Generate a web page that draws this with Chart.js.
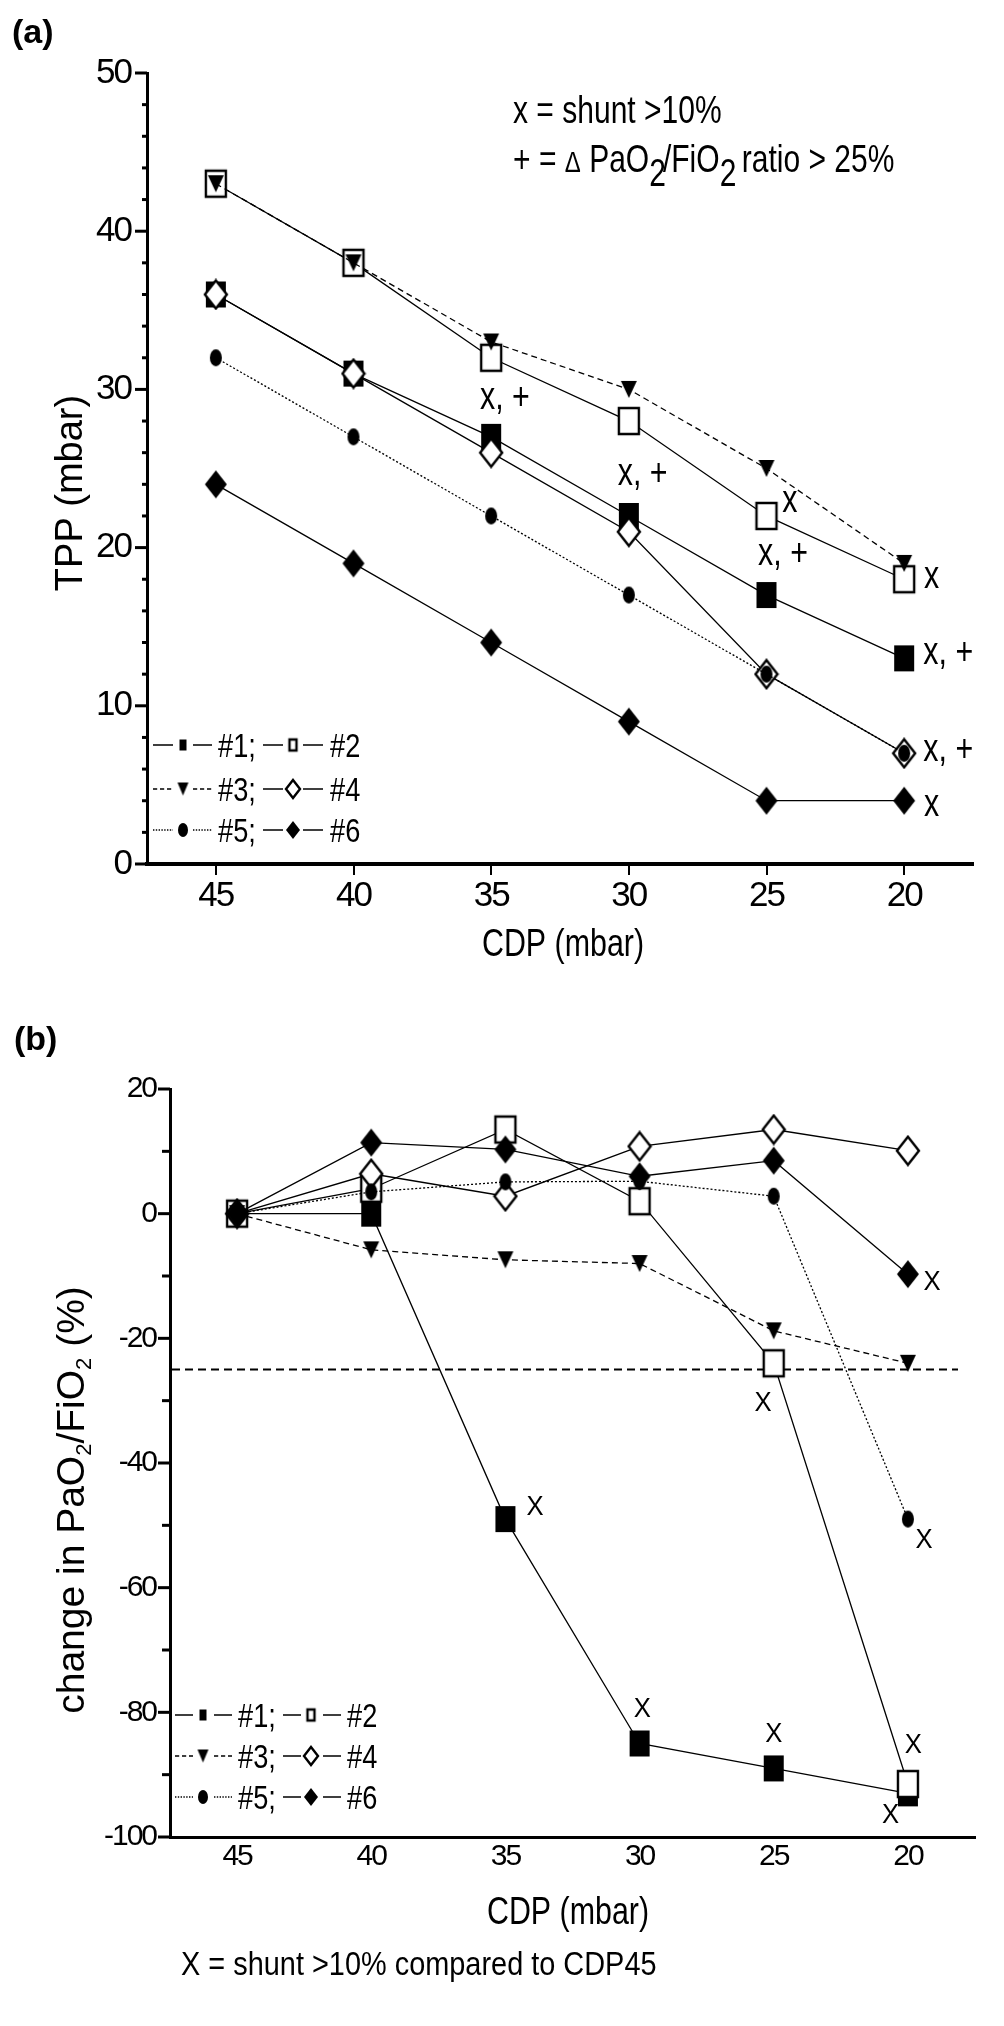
<!DOCTYPE html>
<html>
<head>
<meta charset="utf-8">
<script src="https://cdn.jsdelivr.net/npm/chart.js@4.4.1/dist/chart.umd.min.js"></script>
<style>
    body { margin: 0; background: #fff; }
    #wrap { position: relative; width: 1004px; height: 2026px; }
    #wrap canvas { position: absolute; left: 0; }
</style>
</head>
<body>
<div id="wrap">
    <canvas id="tpp-chart" width="1004" height="1000" style="top:0"></canvas>
    <canvas id="change-chart" width="1004" height="1026" style="top:1000px"></canvas>
</div>
<script>
// CDP steps (mbar)
const cdp = [45, 40, 35, 30, 25, 20];
const xTicks = [45, 40, 35, 30, 25, 20];
const seriesNames = ['#1', '#2', '#3', '#4', '#5', '#6'];

// (a) TPP (mbar)
const tpp1 = [36, 31, 27, 22, 17, 13];
const tpp2 = [43, 38, 32, 28, 22, 18];
const tpp3 = [43, 38, 33, 30, 25, 19];
const tpp4 = [36, 31, 26, 21, 12, 7];
const tpp5 = [32, 27, 22, 17, 12, 7];
const tpp6 = [24, 19, 14, 9, 4, 4];

// (b) change in PaO2/FiO2 (%)
const chg1 = [0, 0, -49, -85, -89, -93];
const chg2 = [0, 4, 13.5, 2, -24, -91.5];
const chg3 = [0, -5.8, -7.4, -8, -18.8, -24];
const chg4 = [0, 6.4, 2.8, 10.8, 13.5, 10.1];
const chg5 = [0, 3.5, 5.1, 5.2, 2.8, -49];
const chg6 = [0, 11.4, 10.3, 6, 8.5, -9.7];

const threshold = -25;

// shunt / ratio marks next to the points
const notesA = [
    { x: 34.5, y: 29.3, text: 'x, +' },
    { x: 29.5, y: 24.5, text: 'x, +' },
    { x: 24.15, y: 22.85, text: 'x' },
    { x: 24.4, y: 19.5, text: 'x, +' },
    { x: 19.0, y: 18.0, text: 'x' },
    { x: 18.4, y: 13.2, text: 'x, +' },
    { x: 18.4, y: 7.1, text: 'x, +' },
    { x: 19.0, y: 3.6, text: 'x' }
];
const notesB = [
    { x: 19.1, y: -10.7, text: 'X' },
    { x: 25.4, y: -30.2, text: 'X' },
    { x: 33.9, y: -46.8, text: 'X' },
    { x: 19.4, y: -52.1, text: 'X' },
    { x: 29.9, y: -79.3, text: 'X' },
    { x: 25.0, y: -83.2, text: 'X' },
    { x: 19.8, y: -85, text: 'X' },
    { x: 20.65, y: -96.2, text: 'X' }
];

const SANS = '"Liberation Sans", Arial, sans-serif';
Chart.defaults.font.family = SANS;
Chart.defaults.color = '#000';

const markerKinds = ['sqFill', 'sqOpen', 'triDown', 'diaOpen', 'dot', 'diaFill'];
const dashes = [[], [], [6, 4], [], [2, 2], []];
const markerSize = { sqFill: [22, 28], sqOpen: [22, 28], triDown: [16, 17], diaOpen: [22, 28], dot: [12, 17], diaFill: [22, 28] };
const legendSize = { sqFill: [9, 13], sqOpen: [9, 13], triDown: [11, 13], diaOpen: [14, 18], dot: [10, 14], diaFill: [14, 18] };

function makeMarker(kind, w, h) {
    const c = document.createElement('canvas');
    c.width = w + 4;
    c.height = h + 4;
    const g = c.getContext('2d');
    g.translate(2, 2);
    g.fillStyle = '#000';
    g.strokeStyle = '#000';
    g.lineWidth = 2.4;
    g.beginPath();
    if (kind === 'sqFill' || kind === 'sqOpen') {
        g.rect(1, 1, w - 2, h - 2);
    } else if (kind === 'triDown') {
        g.moveTo(0, 0); g.lineTo(w, 0); g.lineTo(w / 2, h); g.closePath();
    } else if (kind === 'dot') {
        g.ellipse(w / 2, h / 2, w / 2, h / 2, 0, 0, Math.PI * 2);
    } else {
        g.moveTo(w / 2, 0); g.lineTo(w, h / 2); g.lineTo(w / 2, h); g.lineTo(0, h / 2); g.closePath();
    }
    if (kind === 'sqOpen' || kind === 'diaOpen') {
        g.fillStyle = '#fff';
        g.fill();
        g.stroke();
    } else {
        g.fill();
    }
    return c;
}

// narrow text: the original figure is squeezed sideways
function squeezed(ctx, str, x, y, font, align, sx) {
    ctx.save();
    ctx.letterSpacing = '0px';
    ctx.font = font;
    ctx.fillStyle = '#000';
    ctx.textAlign = align || 'left';
    ctx.translate(x, y);
    ctx.scale(sx || 0.8, 1);
    ctx.fillText(str, 0, 0);
    ctx.restore();
}

function squeezedWidth(ctx, str, font, sx) {
    ctx.save();
    ctx.letterSpacing = '0px';
    ctx.font = font;
    const w = ctx.measureText(str).width * (sx || 0.8);
    ctx.restore();
    return w;
}

function buildDatasets(series) {
    return series.map((vals, i) => ({
        label: seriesNames[i],
        data: cdp.map((c, j) => ({ x: c, y: vals[j] })),
        borderColor: '#000',
        borderWidth: 1.3,
        borderDash: dashes[i],
        pointStyle: makeMarker(markerKinds[i], ...markerSize[markerKinds[i]]),
        pointRadius: 10,
        tension: 0,
        clip: false,
        order: series.length - i
    }));
}

function drawLegend(ctx, rows, cols, fontPx) {
    ctx.save();
    ctx.strokeStyle = '#000';
    ctx.lineWidth = 1.3;
    rows.forEach((y, r) => {
        [0, 1].forEach(k => {
            const i = r * 2 + k;
            const c = cols[k];
            ctx.setLineDash(dashes[i].map(d => d * 0.7));
            ctx.beginPath();
            ctx.moveTo(c.seg1[0], y); ctx.lineTo(c.seg1[1], y);
            ctx.moveTo(c.seg2[0], y); ctx.lineTo(c.seg2[1], y);
            ctx.stroke();
            ctx.setLineDash([]);
            const kind = markerKinds[i];
            const img = makeMarker(kind, ...legendSize[kind]);
            ctx.drawImage(img, c.mark - img.width / 2, y - img.height / 2);
            squeezed(ctx, seriesNames[i] + (k === 0 ? ';' : ''), c.text, y + fontPx * 0.36, fontPx + 'px ' + SANS, 'left', 0.8);
        });
    });
    ctx.restore();
}

function drawYTicks(ctx, scale, major, majorLen, minorLen) {
    ctx.save();
    ctx.strokeStyle = '#000';
    ctx.lineWidth = 3;
    const x0 = scale.right;
    scale.ticks.forEach(t => {
        const y = scale.getPixelForValue(t.value);
        const len = t.value % major === 0 ? majorLen : minorLen;
        ctx.beginPath();
        ctx.moveTo(x0 - len, y);
        ctx.lineTo(x0, y);
        ctx.stroke();
    });
    ctx.restore();
}

function drawNotes(ctx, chart, notes, font, lift, sx) {
    const xs = chart.scales.x, ys = chart.scales.y;
    notes.forEach(n => {
        squeezed(ctx, n.text, xs.getPixelForValue(n.x), ys.getPixelForValue(n.y) + lift, font, 'center', sx);
    });
}

function xScale(tickPad, showTicks, borderWidth, tickFont) {
    return {
        type: 'linear',
        reverse: true,
        min: 17.5,
        max: 47.5,
        afterBuildTicks: s => { s.ticks = xTicks.map(v => ({ value: v })); },
        ticks: { font: { size: tickFont }, padding: tickPad, autoSkip: false, maxRotation: 0, callback: v => String(v) },
        grid: { display: showTicks, drawOnChartArea: false, drawTicks: showTicks, tickLength: 11, lineWidth: 2, color: '#000' },
        border: { display: true, width: borderWidth, color: '#000' }
    };
}

// tighter digits on the axes
const tightText = {
    id: 'tightText',
    beforeDraw(chart) { chart.ctx.letterSpacing = '-2px'; }
};

// ---------- (a) TPP ----------
const tppPlugin = {
    id: 'tppExtras',
    afterDraw(chart) {
        const ctx = chart.ctx;
        ctx.letterSpacing = '0px';
        drawYTicks(ctx, chart.scales.y, 10, 12, 5);
        drawNotes(ctx, chart, notesA, '38px ' + SANS, 9, 0.8);
        drawLegend(ctx, [745, 789, 830], [
            { seg1: [153, 173], mark: 183, seg2: [193, 212], text: 218 },
            { seg1: [263, 283], mark: 293, seg2: [303, 323], text: 330 }
        ], 34);

        squeezed(ctx, '(a)', 12, 43, 'bold 34px ' + SANS, 'left', 1);
        squeezed(ctx, 'CDP (mbar)', 563, 956, '38px ' + SANS, 'center', 0.8);

        ctx.save();
        ctx.fillStyle = '#000';
        ctx.font = '38px ' + SANS;
        ctx.translate(82, 493);
        ctx.rotate(-Math.PI / 2);
        ctx.textAlign = 'center';
        ctx.fillText('TPP (mbar)', 0, 0);
        ctx.restore();

        // key text top right
        squeezed(ctx, 'x = shunt >10%', 513, 123, '39px ' + SANS, 'left', 0.77);
        const parts = [
            ['+ = ', '39px ' + SANS, 0, 0.77],
            ['\u0394', '30px ' + SANS, 0, 0.8],
            [' PaO', '39px ' + SANS, 0, 0.77],
            ['2', '39px ' + SANS, 14, 0.77],
            ['/FiO', '39px ' + SANS, 0, 0.77],
            ['2', '39px ' + SANS, 14, 0.77],
            [' ratio > 25%', '39px ' + SANS, 0, 0.77]
        ];
        let x = 513;
        parts.forEach(([t, f, dy, sx]) => {
            squeezed(ctx, t, x, 172 + dy, f, 'left', sx);
            x += squeezedWidth(ctx, t, f, sx) - (t === '2' ? 3 : 0);
        });
    }
};

new Chart(document.getElementById('tpp-chart'), {
    type: 'line',
    data: { datasets: buildDatasets([tpp1, tpp2, tpp3, tpp4, tpp5, tpp6]) },
    options: {
        responsive: false,
        animation: false,
        events: [],
        layout: { padding: { top: 73, right: 31, bottom: 0, left: 0 } },
        plugins: { legend: { display: false }, tooltip: { enabled: false } },
        scales: {
            x: Object.assign(xScale(0, true, 4, 35), { afterFit: s => { s.height = 1000 - 864; } }),
            y: {
                min: 0,
                max: 50,
                afterFit: s => { s.width = 147; },
                ticks: { stepSize: 2, autoSkip: false, padding: 16, font: { size: 35 }, callback: v => (v % 10 === 0 ? String(v) : '') },
                grid: { display: false, drawTicks: false },
                border: { display: true, width: 3, color: '#000' }
            }
        }
    },
    plugins: [tightText, tppPlugin]
});

// ---------- (b) change in PaO2/FiO2 ----------
const changePlugin = {
    id: 'changeExtras',
    beforeDatasetsDraw(chart) {
        const ctx = chart.ctx;
        const y = chart.scales.y.getPixelForValue(threshold);
        ctx.save();
        ctx.strokeStyle = '#000';
        ctx.lineWidth = 2;
        ctx.setLineDash([8, 5]);
        ctx.beginPath();
        ctx.moveTo(chart.chartArea.left + 2, y);
        ctx.lineTo(chart.chartArea.right - 17, y);
        ctx.stroke();
        ctx.restore();
    },
    afterDraw(chart) {
        const ctx = chart.ctx;
        ctx.letterSpacing = '0px';
        drawYTicks(ctx, chart.scales.y, 20, 12, 8);
        drawNotes(ctx, chart, notesB, '27px ' + SANS, 9.5, 0.95);
        drawLegend(ctx, [715, 756, 797], [
            { seg1: [175, 193], mark: 203, seg2: [214, 232], text: 238 },
            { seg1: [283, 301], mark: 311, seg2: [323, 341], text: 347 }
        ], 34);

        squeezed(ctx, '(b)', 14, 50, 'bold 34px ' + SANS, 'left', 1);
        squeezed(ctx, 'CDP (mbar)', 568, 924, '38px ' + SANS, 'center', 0.8);
        squeezed(ctx, 'X = shunt >10% compared to CDP45', 181, 975, '34px ' + SANS, 'left', 0.85);

        // rotated y title with subscripts
        ctx.save();
        ctx.fillStyle = '#000';
        const big = '39px ' + SANS, small = '22px ' + SANS;
        const parts = [['change in PaO', big, 0], ['2', small, 7], ['/FiO', big, 0], ['2', small, 7], [' (%)', big, 0]];
        let total = 0;
        parts.forEach(([t, f]) => { ctx.font = f; total += ctx.measureText(t).width; });
        ctx.translate(84, 500);
        ctx.rotate(-Math.PI / 2);
        let x = -total / 2;
        parts.forEach(([t, f, dy]) => {
            ctx.font = f;
            ctx.fillText(t, x, dy);
            x += ctx.measureText(t).width;
        });
        ctx.restore();
    }
};

new Chart(document.getElementById('change-chart'), {
    type: 'line',
    data: { datasets: buildDatasets([chg1, chg2, chg3, chg4, chg5, chg6]) },
    options: {
        responsive: false,
        animation: false,
        events: [],
        layout: { padding: { top: 89, right: 29, bottom: 0, left: 0 } },
        plugins: { legend: { display: false }, tooltip: { enabled: false } },
        scales: {
            x: Object.assign(xScale(2, false, 3, 30), { afterFit: s => { s.height = 1026 - 837; } }),
            y: {
                min: -100,
                max: 20,
                afterFit: s => { s.width = 170; },
                ticks: { stepSize: 10, autoSkip: false, padding: 14, font: { size: 30 }, callback: v => (v % 20 === 0 ? String(v) : '') },
                grid: { display: false, drawTicks: false },
                border: { display: true, width: 3, color: '#000' }
            }
        }
    },
    plugins: [tightText, changePlugin]
});
</script>
</body>
</html>
